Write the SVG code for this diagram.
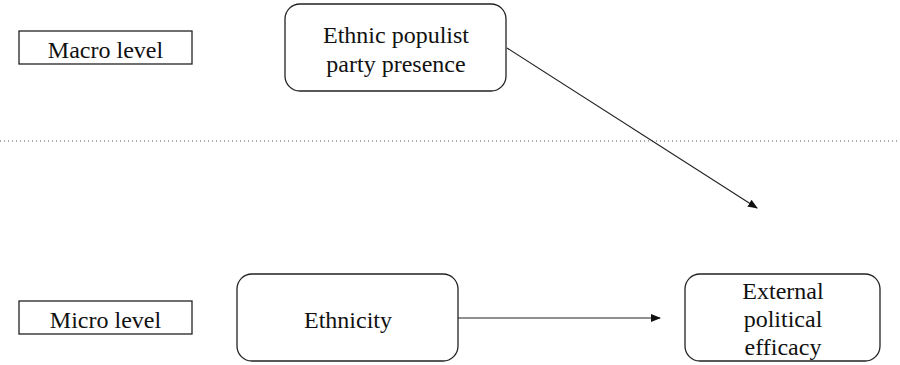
<svg xmlns="http://www.w3.org/2000/svg" width="900" height="365" viewBox="0 0 900 365">
<style>
.box{fill:#fff;stroke:#222;stroke-width:1.3}
.lbl{font-family:'Liberation Serif','Times New Roman',Times,serif;font-size:24px;fill:#111;text-anchor:middle}
.edge{stroke:#222;stroke-width:1.2;fill:none}
</style>
<defs>
<marker id="arr" markerWidth="10" markerHeight="8" refX="9" refY="4" orient="auto" markerUnits="userSpaceOnUse">
<path d="M0,0 L10,4 L0,8 Z" fill="#111"/>
</marker>
</defs>
<rect width="900" height="365" fill="#fff"/>
<line x1="0" y1="141" x2="900" y2="141" stroke="#555" stroke-width="1" stroke-dasharray="1 3"/>
<g id="macro">
<rect class="box" x="19" y="31" width="173" height="33"/>
<text class="lbl" x="105.5" y="58" font-family="Liberation Serif, serif">Macro level</text>
</g>
<g id="micro">
<rect class="box" x="19" y="301" width="173" height="33"/>
<text class="lbl" x="105.5" y="328" font-family="Liberation Serif, serif">Micro level</text>
</g>
<g id="populist">
<rect class="box" x="285" y="4" width="221" height="87" rx="15"/>
<text class="lbl" x="396" y="43" font-family="Liberation Serif, serif">Ethnic populist</text>
<text class="lbl" x="396" y="72" font-family="Liberation Serif, serif">party presence</text>
</g>
<g id="ethnicity">
<rect class="box" x="237" y="274" width="221" height="87" rx="15"/>
<text class="lbl" x="348" y="328" font-family="Liberation Serif, serif">Ethnicity</text>
</g>
<g id="efficacy">
<rect class="box" x="685" y="274" width="195" height="87" rx="15"/>
<text class="lbl" x="783" y="299" font-family="Liberation Serif, serif">External</text>
<text class="lbl" x="783" y="327" font-family="Liberation Serif, serif">political</text>
<text class="lbl" x="783" y="355" font-family="Liberation Serif, serif">efficacy</text>
</g>
<g id="connectors">
<line class="edge" x1="507" y1="48" x2="757" y2="208" marker-end="url(#arr)"/>
<line class="edge" x1="458" y1="318" x2="660" y2="318" marker-end="url(#arr)"/>
</g>
</svg>
